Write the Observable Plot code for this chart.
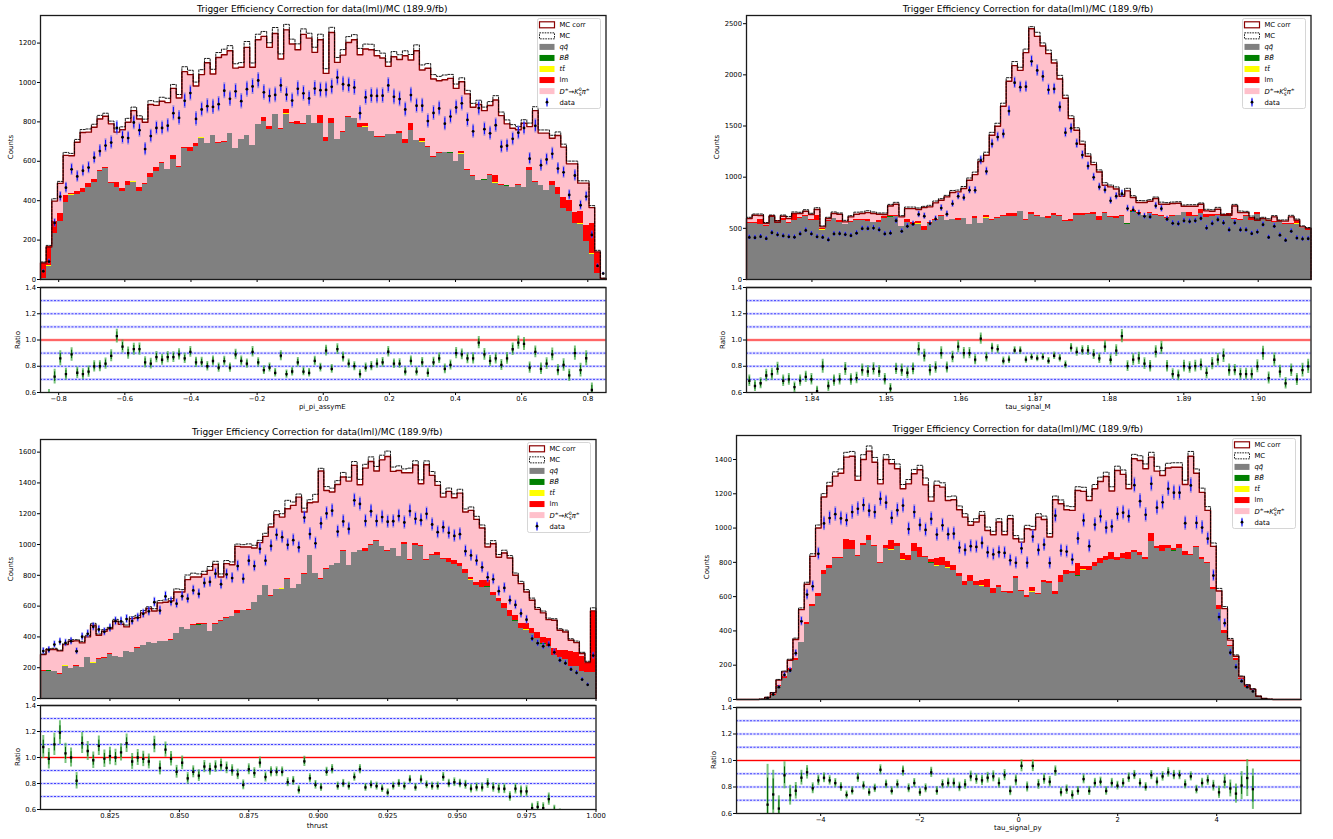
<!DOCTYPE html>
<html><head><meta charset="utf-8">
<script src="https://cdn.jsdelivr.net/npm/d3@7"></script>
<script src="https://cdn.jsdelivr.net/npm/@observablehq/plot@0.6"></script>
<style>
body{margin:0;background:#fff;}
#root{position:relative;width:1333px;height:839px;overflow:hidden;font-family:"DejaVu Sans",sans-serif;}
.lbl{position:absolute;color:#000;white-space:nowrap;line-height:1;}
</style></head><body><div id="root"></div>
<script>
// ---------------- DATA ----------------
const titleText = "Trigger Efficiency Correction for data(lml)/MC (189.9/fb)";
const legendLabels = ["MC corr","MC","qq\u0304","BB\u0304","tt\u0304","lm","D±→K0Sπ±","data"];
const xLabels = ["pi_pi_assymE","tau_signal_M","thrust","tau_signal_py"];

// Top-left: pi_pi_assymE
const tlTot = [84,165,398,488,630,628,697,746,748,773,815,829,790,748,760,798,857,815,798,888,884,905,898,970,921,1055,1040,982,1040,1100,1043,1127,1141,1161,1073,1077,1178,1077,1217,1234,1178,1249,1119,1267,1195,1166,1244,1225,1153,1217,1046,1254,1102,1139,1203,1217,1141,1170,1166,1136,1124,1082,1131,1117,1136,1114,1161,1063,1072,1018,1009,1014,1021,970,1004,942,874,888,857,883,911,832,790,768,760,793,776,857,743,743,717,731,672,587,587,489,489,365,140,5];
const tlMcd = [5,8,12,10,15,12,14,15,16,15,18,15,14,16,15,20,18,16,16,20,18,20,22,20,18,25,22,20,25,22,24,25,28,26,22,24,30,22,28,25,24,30,26,28,25,30,28,25,26,28,24,26,25,28,30,26,32,25,28,26,25,22,26,24,25,28,30,26,24,22,22,24,20,22,20,18,20,22,18,20,22,18,20,18,16,18,18,20,16,16,15,18,15,14,14,12,12,10,8,2];
const tlQQ = [5,64,233,295,390,425,430,444,466,494,550,562,489,469,446,478,493,449,483,516,549,587,557,611,570,667,650,677,717,689,729,692,697,739,663,709,731,678,786,803,759,835,763,840,790,786,785,830,790,790,702,790,709,748,820,816,773,773,751,722,722,736,736,739,689,756,705,697,672,621,641,645,641,599,635,554,525,503,503,528,489,478,472,466,478,466,554,494,476,452,478,432,361,343,284,280,194,128,30,0];
const tlLM = [75,95,62,39,37,5,14,17,20,14,4,4,4,25,15,17,2,17,4,24,22,2,2,19,2,2,22,12,2,2,0,2,2,2,2,2,2,2,2,20,20,2,2,19,2,17,2,2,2,37,20,27,2,2,2,2,20,17,2,2,2,2,2,14,22,37,2,17,2,2,2,2,2,2,10,2,2,2,2,5,35,2,2,2,2,2,15,2,2,2,17,35,55,60,55,60,80,150,105,0];
const tlBB = [[1,3],[6,2],[41,3],[44,3],[54,3],[72,3],[78,3],[82,3]];
const tlTT = [[1,4],[5,4],[16,4],[21,3],[28,3],[43,4],[46,4],[49,3],[57,3],[67,4],[74,4],[80,3],[95,4],[97,4]];
const tlData = [42,91,287,420,466,559,523,552,568,618,652,680,695,770,722,718,797,758,662,728,769,769,781,844,820,907,946,815,863,880,876,890,958,917,955,905,966,980,1010,950,931,937,985,938,908,968,945,919,969,961,962,978,1025,991,986,974,844,924,933,932,933,985,927,916,863,936,882,882,804,845,868,791,827,873,894,810,752,870,763,742,783,674,679,714,745,769,613,780,580,609,638,563,544,429,528,377,421,226,69,30];
const tlXTicks = [-0.8,-0.6,-0.4,-0.2,0,0.2,0.4,0.6,0.8];
const tlXTickLabels = ["−0.8","−0.6","−0.4","−0.2","0.0","0.2","0.4","0.6","0.8"];
const tlYTicks = [0,200,400,600,800,1000,1200];

// Top-right: tau_signal_M
const trTot = [596,628,625,547,618,560,618,596,645,645,667,635,684,514,596,645,638,563,612,638,645,654,645,638,635,719,736,612,693,693,684,703,710,749,775,807,850,856,889,970,1025,1152,1214,1410,1497,1693,1937,2090,2044,2217,2451,2376,2282,2207,2116,1960,1771,1572,1458,1322,1204,1123,1051,921,905,885,814,866,801,752,752,765,791,736,736,742,745,716,716,716,736,671,667,687,628,628,719,654,654,605,579,596,579,612,570,570,612,579,514,498];
const trMcd = [12,12,15,10,12,15,12,20,15,12,15,12,18,10,12,15,12,15,12,20,15,18,15,12,15,15,18,12,15,15,15,12,15,18,15,15,20,18,20,22,25,25,30,28,30,30,35,40,30,35,20,40,30,35,30,35,30,28,25,30,25,22,20,25,18,20,15,25,18,20,18,15,15,20,15,15,15,12,15,15,12,15,15,18,12,12,15,15,12,15,12,12,15,12,12,12,15,12,10,10];
const trQQ = [547,547,537,521,612,563,579,547,573,596,612,573,579,482,570,596,553,537,553,573,573,563,553,557,596,605,618,514,557,540,540,482,547,573,612,573,586,579,596,540,596,547,596,579,596,618,618,612,661,579,638,618,605,596,628,612,570,563,628,628,638,635,579,645,602,596,612,540,654,645,622,645,628,618,596,612,628,651,612,612,645,602,612,628,622,612,586,579,612,579,638,586,563,553,570,540,540,540,498,482];
const trLM = [12,10,40,5,12,10,15,10,70,10,12,15,50,12,5,5,25,5,10,10,10,20,5,20,15,10,5,5,30,15,25,40,10,10,10,8,5,20,5,0,10,5,20,10,10,5,25,30,5,10,15,10,5,15,20,10,5,15,15,15,10,20,35,10,15,15,10,0,10,5,5,5,5,5,10,10,0,5,40,10,40,30,20,10,10,30,10,5,10,15,20,10,5,15,10,10,10,25,5,10];
const trBB = [[25,8],[67,8],[68,6],[92,5]];
const trTT = [[2,5],[5,5],[13,5],[18,5],[30,5],[33,5],[40,5],[42,6],[53,5],[57,5],[85,6],[92,5],[97,6]];
const trData = [411,408,419,399,457,437,426,417,413,445,480,445,417,411,387,445,447,439,428,453,497,497,503,485,445,453,574,471,520,541,636,619,547,592,698,638,740,813,800,873,871,1164,1056,1325,1392,1422,1646,1923,1880,1884,2132,2043,1985,1854,1862,1686,1435,1478,1327,1216,1108,999,904,875,769,814,838,693,681,647,617,612,720,692,589,549,544,573,566,573,596,503,547,584,553,484,554,484,484,448,463,536,411,520,433,382,471,405,396,398];
const trXTicks = [1.84,1.85,1.86,1.87,1.88,1.89,1.90];
const trXTickLabels = ["1.84","1.85","1.86","1.87","1.88","1.89","1.90"];
const trYTicks = [0,500,1000,1500,2000,2500];

// Bottom-left: thrust
const blTot = [285,318,318,309,350,372,374,361,400,476,411,437,452,502,482,465,519,525,556,584,568,621,625,634,692,692,772,789,789,806,832,871,789,876,869,988,984,984,977,1012,1053,1114,1194,1178,1232,1254,1308,1211,1271,1276,1477,1351,1341,1390,1438,1412,1514,1388,1496,1539,1477,1550,1572,1475,1481,1466,1466,1516,1395,1518,1449,1384,1308,1345,1304,1334,1211,1222,1163,1107,984,1005,917,945,912,800,746,692,638,579,556,512,508,443,432,378,363,292,234,569];
const blMcd = [5,5,8,5,8,10,8,10,10,12,8,10,10,12,15,12,12,15,15,12,15,15,15,15,20,15,30,25,20,20,25,20,20,20,18,15,15,20,18,15,20,20,25,22,55,22,20,25,20,50,18,25,25,25,30,25,25,35,25,30,30,30,35,28,30,25,30,28,25,25,25,25,25,22,25,25,20,22,20,20,20,20,18,18,16,15,15,15,14,12,12,10,10,10,12,10,10,8,8,20];
const blQQ = [177,177,173,158,210,195,205,199,264,227,253,259,285,275,266,303,298,324,342,363,357,372,368,378,422,461,448,476,476,482,432,480,502,519,530,551,569,573,621,670,731,664,709,709,774,714,739,806,930,811,772,839,861,876,956,863,951,958,956,995,1021,990,956,973,919,1001,897,995,988,897,930,930,902,886,869,854,815,768,731,724,724,666,627,584,530,502,454,443,422,389,352,335,277,264,253,205,205,173,169,166];
const blLM = [3,0,2,5,2,2,10,3,5,5,4,5,6,0,2,0,3,5,3,2,2,0,2,5,3,3,2,3,5,2,3,3,3,4,5,20,2,3,3,0,0,2,0,0,3,0,0,5,0,0,5,5,3,0,2,0,0,0,17,5,5,0,5,0,0,15,5,10,5,3,5,20,10,25,30,20,25,15,25,40,40,20,20,35,40,35,30,40,35,40,40,55,45,45,60,100,90,95,60,400];
const blBB = [[1,3],[9,2],[28,3],[31,3],[55,3],[80,3],[85,3],[90,3],[96,3]];
const blTT = [[4,3],[9,3],[30,3],[43,3],[57,3],[64,4],[77,4],[84,4],[87,5],[93,5],[97,5]];
const blData = [308,315,350,368,361,372,307,401,420,466,448,433,457,502,501,516,503,525,550,566,625,571,663,628,616,664,648,702,679,750,757,810,742,806,782,860,777,895,860,972,895,991,1063,1048,998,1028,981,1175,1068,1008,1137,1202,1220,1084,1150,1101,1287,1263,1152,1216,1152,1178,1148,1151,1185,1143,1217,1167,1158,1199,1130,1080,1112,1076,1056,1067,957,929,896,852,787,774,697,718,638,608,552,512,389,359,339,348,300,248,229,189,167,123,89,279];
const blXTicks = [0.825,0.85,0.875,0.9,0.925,0.95,0.975,1.0];
const blXTickLabels = ["0.825","0.850","0.875","0.900","0.925","0.950","0.975","1.000"];
const blYTicks = [0,200,400,600,800,1000,1200,1400,1600];

// Bottom-right: tau_signal_py
const brTot = [0,0,0,0,2,12,39,113,161,229,350,524,672,835,1000,1181,1245,1303,1320,1414,1419,1278,1400,1449,1384,1258,1400,1375,1346,1229,1258,1317,1340,1252,1157,1249,1239,1161,1165,1107,1064,1016,1035,1074,986,961,1035,961,1054,938,918,996,990,1064,1050,948,1165,1142,1107,1103,1219,1214,1161,1229,1272,1301,1216,1336,1313,1229,1404,1394,1346,1414,1332,1307,1350,1355,1355,1254,1419,1320,1208,1103,893,633,530,346,252,132,83,60,19,6,2,0,0,0,0,0];
const brMcd = [0,0,0,0,0,1,2,4,5,6,8,10,12,15,18,20,22,25,25,28,28,25,28,30,28,25,28,25,28,25,25,25,26,40,25,25,25,22,22,22,20,22,20,22,20,20,20,20,20,18,18,20,20,20,20,20,22,22,22,22,22,24,24,25,25,25,25,25,26,26,26,28,28,28,28,28,28,26,26,25,28,25,25,22,20,15,12,10,8,5,4,3,1,0,0,0,0,0,0,0];
const brQQ = [0,0,0,0,1,8,25,74,122,171,229,330,439,544,602,730,763,821,821,874,876,835,899,928,893,792,883,870,893,808,808,866,827,827,792,777,783,763,750,715,666,686,666,662,656,617,656,627,617,705,631,594,627,614,682,676,612,680,730,734,715,750,753,773,792,808,816,811,821,816,860,841,816,924,880,866,880,866,880,841,841,885,816,792,641,524,384,307,230,115,70,50,16,5,1,0,0,0,0,0];
const brLM = [0,0,0,0,0,1,5,8,10,8,10,5,8,10,15,25,20,5,10,60,50,5,10,30,5,10,15,50,15,35,30,45,60,10,20,40,45,35,30,20,25,40,20,25,45,30,10,5,15,10,5,10,20,5,15,10,20,45,25,10,70,20,20,25,30,25,40,20,30,40,10,15,15,45,10,30,20,10,25,20,5,5,15,5,10,25,20,10,10,8,5,3,1,0,0,0,0,0,0,0];
const brBB = [[34,6],[60,6],[77,6]];
const brTT = [[27,6],[29,6],[35,5],[37,5],[43,5],[52,5],[60,5],[61,6],[63,4]];
const brData = [null,null,null,null,null,8,29,72,143,169,270,456,612,660,850,1027,1058,1081,1056,1046,1093,1112,1134,1101,1093,1170,1148,1059,1104,1131,994,1093,1018,989,1053,962,1016,964,967,886,872,894,890,913,858,846,859,855,812,797,881,797,950,872,903,796,1072,868,863,816,939,1044,894,1020,1068,1002,1009,1082,1090,1069,1250,1157,1077,1258,1119,1150,1229,1206,1206,1028,1249,1030,1003,938,723,481,445,273,189,107,72,47,null,null,null,null,null,null,null,null];
const brXTicks = [-4,-2,0,2,4];
const brXTickLabels = ["−4","−2","0","2","4"];
const brYTicks = [0,200,400,600,800,1000,1200,1400];

const ratioYTicks = [0.6,0.8,1.0,1.2,1.4];
const ratioYTickLabels = ["0.6","0.8","1.0","1.2","1.4"];
const ratioGuides = [0.7,0.8,0.9,1.1,1.2,1.3];

// ---------------- LAYOUT / STYLE ----------------
const comps = ["qq","bb","tt","lm","sig"];
const compColors = ["#808080","#008000","#ffff00","#ff0000","#ffc0cb"];

const panels = [
  {tot:tlTot, mcd:tlMcd, qq:tlQQ, lm:tlLM, bb:tlBB, tt:tlTT, data:tlData, range:[-0.855,0.855], yMax:1340,
   xTicks:tlXTicks, xTickLabels:tlXTickLabels, yTicks:tlYTicks, xlab:xLabels[0],
   fx:39.5, fw:565.5, my:15, mh:264, ry:287, rh:105, titleY:8.5, countsX:11, ratioX:18, xlabY:407},
  {tot:trTot, mcd:trMcd, qq:trQQ, lm:trLM, bb:trBB, tt:trTT, data:trData, range:[1.8312,1.9071], yMax:2580,
   xTicks:trXTicks, xTickLabels:trXTickLabels, yTicks:trYTicks, xlab:xLabels[1],
   fx:745.8, fw:564.5, my:15, mh:264, ry:287, rh:105, titleY:8.5, countsX:717, ratioX:723, xlabY:407},
  {tot:blTot, mcd:blMcd, qq:blQQ, lm:blLM, bb:blBB, tt:blTT, data:blData, range:[0.8,1.0], yMax:1682,
   xTicks:blXTicks, xTickLabels:blXTickLabels, yTicks:blYTicks, xlab:xLabels[2],
   fx:39.5, fw:555.5, my:439, mh:259, ry:705, rh:104, titleY:432, countsX:11, ratioX:18, xlabY:826},
  {tot:brTot, mcd:brMcd, qq:brQQ, lm:brLM, bb:brBB, tt:brTT, data:brData, range:[-5.7,5.7], yMax:1540,
   xTicks:brXTicks, xTickLabels:brXTickLabels, yTicks:brYTicks, xlab:xLabels[3],
   fx:735.6, fw:564.4, my:435, mh:264, ry:707, rh:106, titleY:428.5, countsX:707, ratioX:714, xlabY:828}
];

const root = document.getElementById("root");
const FONT = "DejaVu Sans, sans-serif";

function addText(txt, x, y, size, rotate) {
  const d = document.createElement("div");
  d.className = "lbl";
  d.textContent = txt;
  d.style.left = x + "px";
  d.style.top = y + "px";
  d.style.fontSize = size + "px";
  d.style.transform = rotate ? "translate(-50%,-50%) rotate(-90deg)" : "translate(-50%,-50%)";
  root.appendChild(d);
}
function place(el, left, top) {
  el.style.position = "absolute";
  el.style.left = left + "px";
  el.style.top = top + "px";
  el.style.maxWidth = "none";
  root.appendChild(el);
}
function sparse(list, n) {
  const a = new Array(n).fill(0);
  list.forEach(([i, v]) => a[i] = v);
  return a;
}

function drawLegend(right, top) {
  const W = 64, H = 91;
  const svg = d3.create("svg").attr("width", W).attr("height", H)
    .style("position","absolute").style("left",(right-W)+"px").style("top",top+"px")
    .style("font-family", FONT).style("font-size","6.8px").style("overflow","visible");
  svg.append("rect").attr("x",0.5).attr("y",0.5).attr("width",W-1).attr("height",H-1).attr("rx",2)
    .attr("fill","#fff").attr("fill-opacity",0.85).attr("stroke","#cccccc").attr("stroke-width",0.8);
  const hx = 2.5, hw = 15, hh = 6, tx = 22.5;
  const fills = [null, null, compColors[0], compColors[1], compColors[2], compColors[3], compColors[4], null];
  for (let i = 0; i < 8; i++) {
    const cy = 6.8 + i * 11.05;
    if (i === 0) {
      svg.append("rect").attr("x",hx).attr("y",cy-hh/2).attr("width",hw).attr("height",hh)
        .attr("fill","#fff").attr("stroke","#8b0000").attr("stroke-width",1.2);
    } else if (i === 1) {
      svg.append("rect").attr("x",hx).attr("y",cy-hh/2).attr("width",hw).attr("height",hh)
        .attr("fill","#fff").attr("stroke","#000").attr("stroke-width",0.9).attr("stroke-dasharray","1.6,1");
    } else if (i === 7) {
      svg.append("line").attr("x1",hx+hw/2).attr("x2",hx+hw/2).attr("y1",cy-4.5).attr("y2",cy+4.5)
        .attr("stroke","#6f6fe8").attr("stroke-width",2).attr("stroke-opacity",0.65);
      svg.append("line").attr("x1",hx+hw/2).attr("x2",hx+hw/2).attr("y1",cy-3.5).attr("y2",cy+3.5)
        .attr("stroke","blue").attr("stroke-width",1);
      svg.append("circle").attr("cx",hx+hw/2).attr("cy",cy).attr("r",1.4).attr("fill","#000");
    } else {
      svg.append("rect").attr("x",hx).attr("y",cy-hh/2).attr("width",hw).attr("height",hh).attr("fill",fills[i]);
    }
    const t = svg.append("text").attr("x",tx).attr("y",cy+2.4).attr("fill","#000");
    if (i === 6) {
      const lab = legendLabels[6]; // D±→K0Sπ±
      t.append("tspan").attr("font-style","italic").text(lab[0]);
      t.append("tspan").attr("font-size","4.6px").attr("dy",-2.6).text(lab[1]);
      t.append("tspan").attr("dy",2.6).text(lab[2]);
      t.append("tspan").attr("font-style","italic").text(lab[3]);
      t.append("tspan").attr("font-size","4.6px").attr("dy",-2.6).text(lab[4]);
      t.append("tspan").attr("font-size","4.6px").attr("font-style","italic").attr("dx",-2.9).attr("dy",4.6).text(lab[5]);
      t.append("tspan").attr("font-style","italic").attr("dy",-2.0).text(lab[6]);
      t.append("tspan").attr("font-size","4.6px").attr("dy",-2.6).text(lab[7]);
    } else {
      t.text(legendLabels[i]);
      if (i >= 2 && i <= 4) t.attr("font-style","italic");
    }
  }
  root.appendChild(svg.node());
}

panels.forEach(P => {
  const n = P.tot.length;
  const [x0, x1] = P.range;
  const w = (x1 - x0) / n;
  const bbA = sparse(P.bb, n), ttA = sparse(P.tt, n);
  const rows = [], stepTot = [{x:x0, y:0}], stepMc = [{x:x0, y:0}], pts = [], rat = [];
  for (let i = 0; i < n; i++) {
    const lo = x0 + i * w, hi = lo + w, xc = lo + w / 2;
    const parts = [P.qq[i], bbA[i], ttA[i], P.lm[i]];
    const base = parts.reduce((a, b) => a + b, 0);
    parts.push(Math.max(0, P.tot[i] - base));
    let acc = 0;
    parts.forEach((v, k) => { if (v > 0) rows.push({x1:lo, x2:hi, y1:acc, y2:acc + v, comp:comps[k]}); acc += v; });
    stepTot.push({x:lo, y:P.tot[i]});
    stepMc.push({x:lo, y:P.tot[i] + P.mcd[i]});
    const d = P.data[i];
    if (d != null) {
      const e = Math.sqrt(d);
      pts.push({x:xc, y:d, lo:d - e, hi:d + e, lo2:d - 1.3 * e, hi2:d + 1.3 * e});
      if (P.tot[i] > 0 && d > 0) {
        const r = d / P.tot[i];
        const eo = r * Math.sqrt(1 / d + 1 / P.tot[i]);
        const ei = r * Math.sqrt(1 / d) * 0.85;
        rat.push({x:xc, r, lo:r - ei, hi:r + ei, lo2:r - eo, hi2:r + eo});
      }
    }
  }
  stepTot.push({x:x1, y:P.tot[n-1]}, {x:x1, y:0});
  stepMc.push({x:x1, y:P.tot[n-1] + P.mcd[n-1]}, {x:x1, y:0});

  const ML = 36, MR = 1, MT = 1, MB = 4;
  const main = Plot.plot({
    width: P.fw + ML + MR, height: P.mh + MT + MB,
    marginLeft: ML, marginRight: MR, marginTop: MT, marginBottom: MB,
    style: {fontFamily: FONT, fontSize: "6.8px", background: "transparent", overflow: "visible", color: "#000"},
    x: {domain: P.range, ticks: P.xTicks, tickFormat: () => "", tickSize: 3, label: null},
    y: {domain: [0, P.yMax], ticks: P.yTicks, tickFormat: d3.format("d"), tickSize: 3, tickPadding: 1.5, label: null},
    color: {domain: comps, range: compColors},
    marks: [
      Plot.rect(rows, {x1:"x1", x2:"x2", y1:"y1", y2:"y2", fill:"comp", shapeRendering:"crispEdges"}),
      Plot.line(stepTot, {x:"x", y:"y", curve:"step-after", stroke:"#8b0000", strokeWidth:1.4}),
      Plot.line(stepMc, {x:"x", y:"y", curve:"step-after", stroke:"#000", strokeWidth:0.9, strokeDasharray:"2.2,1.4"}),
      Plot.ruleX(pts, {x:"x", y1:"lo2", y2:"hi2", stroke:"#6f6fe8", strokeWidth:2, strokeOpacity:0.65, clip:true}),
      Plot.ruleX(pts, {x:"x", y1:"lo", y2:"hi", stroke:"blue", strokeWidth:1, clip:true}),
      Plot.dot(pts, {x:"x", y:"y", r:1.4, fill:"#000", stroke:null, clip:true}),
      Plot.frame({stroke:"#1a1a1a", strokeWidth:1.3})
    ]
  });
  place(main, P.fx - ML, P.my - MT);

  const xmap = new Map(P.xTicks.map((t, i) => [t, P.xTickLabels[i]]));
  const ymap = new Map(ratioYTicks.map((t, i) => [t, ratioYTickLabels[i]]));
  const RB = 12;
  const ratio = Plot.plot({
    width: P.fw + ML + MR, height: P.rh + MT + RB,
    marginLeft: ML, marginRight: MR, marginTop: MT, marginBottom: RB,
    style: {fontFamily: FONT, fontSize: "6.8px", background: "transparent", overflow: "visible", color: "#000"},
    x: {domain: P.range, ticks: P.xTicks, tickFormat: d => xmap.get(d), tickSize: 3, tickPadding: 1, label: null},
    y: {domain: [0.6, 1.4], ticks: ratioYTicks, tickFormat: d => ymap.get(d), tickSize: 3, tickPadding: 1.5, label: null},
    marks: [
      Plot.ruleY(ratioGuides, {stroke:"#b8b8ff", strokeWidth:2.6, strokeOpacity:0.55}),
      Plot.ruleY(ratioGuides, {stroke:"blue", strokeWidth:0.7, strokeDasharray:"2,1.5"}),
      Plot.ruleY([1], {stroke:"#ff8080", strokeWidth:3, strokeOpacity:0.4}),
      Plot.ruleY([1], {stroke:"red", strokeWidth:1.2}),
      Plot.ruleX(rat, {x:"x", y1:"lo2", y2:"hi2", stroke:"#4caf50", strokeWidth:2, strokeOpacity:0.75, clip:true}),
      Plot.ruleX(rat, {x:"x", y1:"lo", y2:"hi", stroke:"#006400", strokeWidth:1, clip:true}),
      Plot.dot(rat, {x:"x", y:"r", r:1.3, symbol:"square", fill:"#000", stroke:null, clip:true}),
      Plot.ruleY([1.4], {stroke:"#555", strokeWidth:1.6}),
      Plot.frame({stroke:"#1a1a1a", strokeWidth:1.3})
    ]
  });
  place(ratio, P.fx - ML, P.ry - MT);

  addText(titleText, P.fx + P.fw / 2, P.titleY, 9, false);
  addText("Counts", P.countsX, P.my + P.mh / 2, 7, true);
  addText("Ratio", P.ratioX, P.ry + P.rh / 2, 7, true);
  addText(P.xlab, P.fx + P.fw / 2, P.xlabY, 7, false);
  drawLegend(P.fx + P.fw - 4, P.my + 3);
});
</script></body></html>
